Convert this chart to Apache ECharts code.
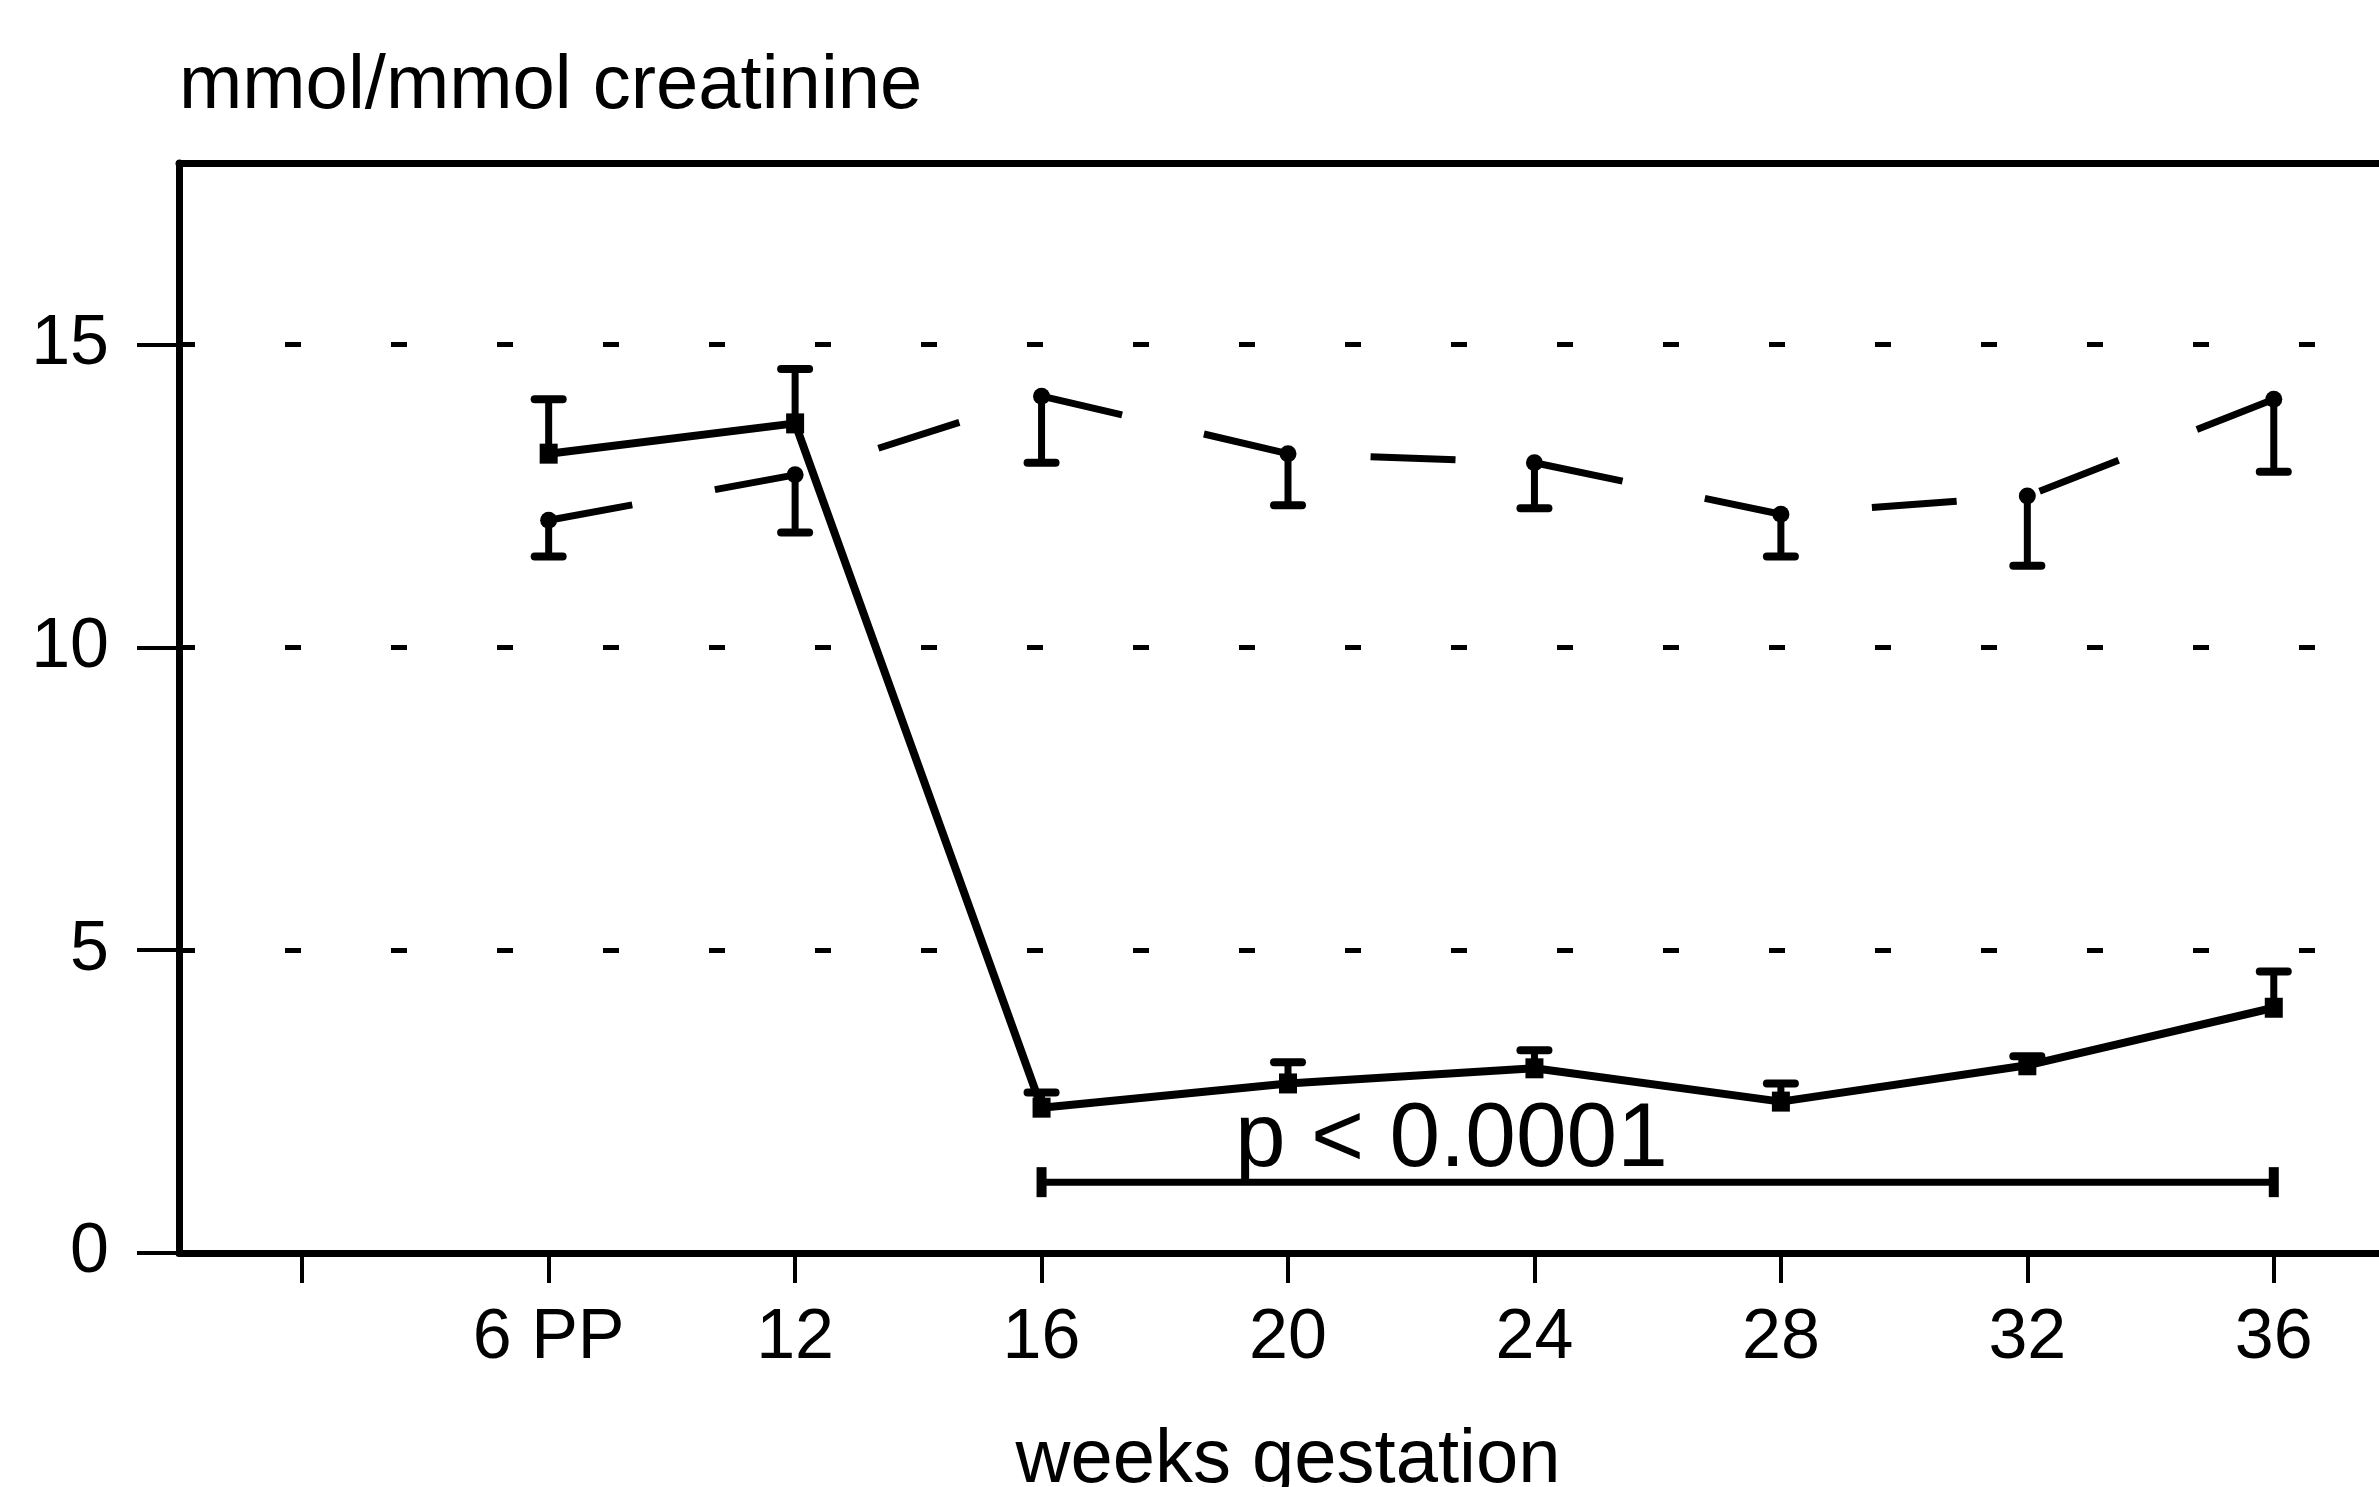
<!DOCTYPE html>
<html>
<head>
<meta charset="utf-8">
<script src="https://cdn.jsdelivr.net/npm/echarts@6/dist/echarts.min.js"></script>
<style>
  html, body { margin: 0; padding: 0; background: #fff; }
  #main { width: 2379px; height: 1487px; }
</style>
</head>
<body>
<div id="main"></div>
<script>
var weeks = [' ', '6 PP', '12', '16', '20', '24', '28', '32', '36'];
var yTicks = [0, 5, 10, 15];
// solid line, error bar goes up
var solidMean = [13.2, 13.7, 2.4, 2.8, 3.05, 2.5, 3.1, 4.05];
var solidTop = [14.1, 14.6, 2.65, 3.15, 3.35, 2.8, 3.25, 4.65];
// dashed line, error bar goes down
var dashMean = [12.1, 12.85, 14.15, 13.2, 13.05, 12.2, 12.5, 14.1];
var dashLow = [11.5, 11.9, 13.05, 12.35, 12.3, 11.5, 11.35, 12.9];
// significance bracket 16 -> 36 (category indexes)
var bracketFrom = 3, bracketMid = 5, bracketTo = 8, bracketY = 1.17;
var pText = 'p < 0.0001';

var font = 'Liberation Sans, Arial, Helvetica, sans-serif';

function pairs(vals) {
    return vals.map(function (v, i) { return [i + 1, v]; });
}
function barData(mean, end) {
    return mean.map(function (v, i) { return [i + 1, v, end[i]]; });
}
function errorBar(params, api) {
    var p0 = api.coord([api.value(0), api.value(1)]);
    var p1 = api.coord([api.value(0), api.value(2)]);
    var half = 14;
    return {
        type: 'group',
        children: [
            { type: 'line', shape: { x1: p0[0], y1: p0[1], x2: p1[0], y2: p1[1] },
              style: { stroke: '#000', lineWidth: 7 } },
            { type: 'line', shape: { x1: p1[0] - half, y1: p1[1], x2: p1[0] + half, y2: p1[1] },
              style: { stroke: '#000', lineWidth: 8, lineCap: 'round' } }
        ]
    };
}

var bracket = [
    [bracketFrom, bracketY],
    { value: [bracketMid, bracketY], symbolSize: 0,
      label: { show: true, formatter: pText } },
    [bracketTo, bracketY]
];

var myChart = echarts.init(document.getElementById('main'));
var option = {
    backgroundColor: '#fff',
    animation: false,
    grid: { left: 179, width: 2218, top: 163, bottom: 234, outerBoundsMode: 'none', containLabel: false },
    xAxis: [{
        type: 'category',
        data: weeks,
        boundaryGap: true,
        name: 'weeks gestation',
        nameLocation: 'middle',
        nameGap: 170,
        nameTextStyle: { fontFamily: font, fontSize: 76, color: '#000' },
        axisLine: { lineStyle: { color: '#000', width: 7 } },
        axisTick: { show: true, alignWithLabel: true, interval: 0, length: 30, lineStyle: { color: '#000', width: 4 } },
        axisLabel: { fontFamily: font, fontSize: 70, color: '#000', margin: 51, interval: 0 },
        splitLine: { show: false }
    }, {
        type: 'category',
        data: weeks,
        position: 'top',
        axisLine: { lineStyle: { color: '#000', width: 7 } },
        axisTick: { show: false },
        axisLabel: { show: false }
    }],
    yAxis: {
        type: 'value',
        min: 0,
        max: 18,
        interval: 5,
        name: 'mmol/mmol creatinine',
        nameLocation: 'end',
        nameGap: 38,
        nameTextStyle: { fontFamily: font, fontSize: 76, color: '#000', align: 'left' },
        axisLine: { show: true, lineStyle: { color: '#000', width: 7 } },
        axisTick: { show: true, length: 42, customValues: yTicks, lineStyle: { color: '#000', width: 4 } },
        axisLabel: { fontFamily: font, fontSize: 70, color: '#000', margin: 70, customValues: yTicks },
        splitLine: { show: true, lineStyle: { color: '#000', width: 5, type: [16, 90] } }
    },
    series: [{
        type: 'line',
        data: pairs(solidMean),
        symbol: 'rect',
        symbolSize: [18, 20],
        itemStyle: { color: '#000' },
        lineStyle: { color: '#000', width: 8 },
        z: 3
    }, {
        type: 'line',
        data: pairs(dashMean),
        symbol: 'circle',
        symbolSize: 17,
        itemStyle: { color: '#000' },
        lineStyle: { color: '#000', width: 7, type: [85, 84] },
        z: 3
    }, {
        type: 'custom',
        renderItem: errorBar,
        data: barData(solidMean, solidTop),
        encode: { x: 0, y: [1, 2] },
        z: 2
    }, {
        type: 'custom',
        renderItem: errorBar,
        data: barData(dashMean, dashLow),
        encode: { x: 0, y: [1, 2] },
        z: 2
    }, {
        type: 'line',
        data: bracket,
        symbol: 'rect',
        symbolSize: [10, 30],
        itemStyle: { color: '#000' },
        lineStyle: { color: '#000', width: 7 },
        label: {
            show: false,
            position: 'top',
            distance: 0,
            offset: [-83, 4],
            fontFamily: font,
            fontSize: 91,
            color: '#000'
        },
        z: 3
    }]
};
myChart.setOption(option);
window.addEventListener('resize', function () {
    myChart.resize();
});
</script>
</body>
</html>
